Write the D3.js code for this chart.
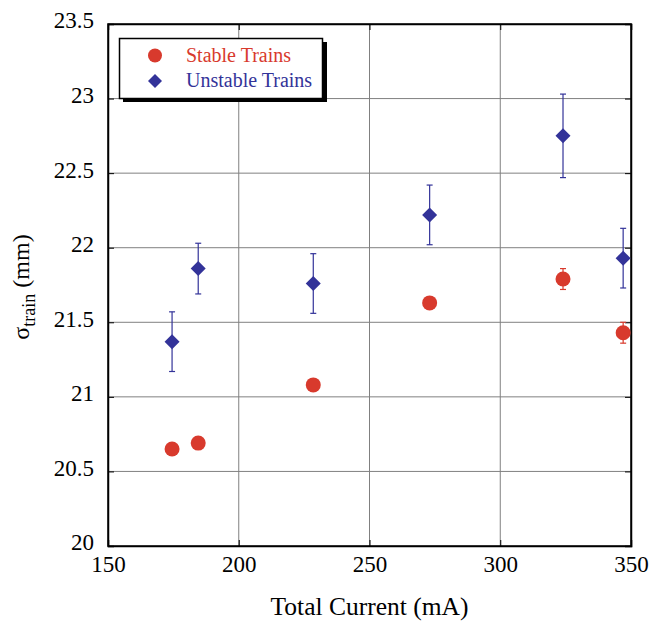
<!DOCTYPE html>
<html>
<head>
<meta charset="utf-8">
<script src="https://cdn.jsdelivr.net/npm/d3@7.9.0/dist/d3.min.js"></script>
<style>
  body { margin: 0; background: #fff; }
  text { font-family: "Liberation Serif", "Times New Roman", serif; }
</style>
</head>
<body>
<svg id="chart" width="652" height="625"></svg>
<script>
// data
const current = [174.5, 184.5, 228.5, 273, 324, 347];
const stableSigma = [20.65, 20.69, 21.08, 21.63, 21.79, 21.43];
const stableErr = [0.02, 0.02, 0.02, 0.02, 0.07, 0.07];
const unstableSigma = [21.37, 21.86, 21.76, 22.22, 22.75, 21.93];
const unstableErr = [0.20, 0.17, 0.20, 0.20, 0.28, 0.20];
const xTicks = [150, 200, 250, 300, 350];
const yTicks = [20, 20.5, 21, 21.5, 22, 22.5, 23, 23.5];

const red = '#d83a2d';
const blue = '#333399';

const svg = d3.select('#chart');
const mLeft = 108, mRight = 631, mTop = 24, mBottom = 546;

let x = d3.scaleLinear().domain([150, 350]).range([mLeft, mRight]);
let y = d3.scaleLinear().domain([20, 23.5]).range([mBottom, mTop]);

// grid
svg.append('g').selectAll('line').data(xTicks.slice(1, -1)).join('line')
    .attr('x1', d => x(d)).attr('x2', d => x(d))
    .attr('y1', mTop).attr('y2', mBottom)
    .attr('stroke', '#808080').attr('stroke-width', 1);
svg.append('g').selectAll('line').data(yTicks.slice(1, -1)).join('line')
    .attr('x1', mLeft).attr('x2', mRight)
    .attr('y1', d => y(d)).attr('y2', d => y(d))
    .attr('stroke', '#808080').attr('stroke-width', 1);

// axes with inward ticks, labels on left/bottom
const yAxis = d3.axisLeft(y).tickValues(yTicks).tickSize(-6).tickPadding(14)
    .tickFormat(d3.format('~g'));
const xAxis = d3.axisBottom(x).tickValues(xTicks).tickSize(-6).tickPadding(10)
    .tickFormat(d3.format('d'));

const gy = svg.append('g').attr('transform', `translate(${mLeft},0)`).call(yAxis);
const gx = svg.append('g').attr('transform', `translate(0,${mBottom})`).call(xAxis);
svg.append('g').attr('transform', `translate(${mRight},0)`)
    .call(d3.axisRight(y).tickValues(yTicks).tickSize(-6).tickFormat(''));
svg.append('g').attr('transform', `translate(0,${mTop})`)
    .call(d3.axisTop(x).tickValues(xTicks).tickSize(-6).tickFormat(''));

svg.selectAll('.domain').attr('stroke', '#000').attr('stroke-width', 1.5);
svg.selectAll('.tick line').attr('stroke', '#000');
gy.selectAll('text').attr('font-size', 23).attr('fill', '#000').attr('dy', '0.17em')
    .attr('font-family', '"Liberation Serif", serif');
gx.selectAll('text').attr('font-size', 23).attr('fill', '#000')
    .attr('font-family', '"Liberation Serif", serif');

// frame
svg.append('rect').attr('x', mLeft).attr('y', mTop)
    .attr('width', mRight - mLeft).attr('height', mBottom - mTop)
    .attr('fill', 'none').attr('stroke', '#000').attr('stroke-width', 1.5);

// error bars
function errorBars(vals, errs, color) {
    const g = svg.append('g').attr('stroke', color).attr('stroke-width', 1.2);
    current.forEach((c, i) => {
        const cx = x(c), y1 = y(vals[i] + errs[i]), y2 = y(vals[i] - errs[i]);
        g.append('line').attr('x1', cx).attr('x2', cx).attr('y1', y1).attr('y2', y2);
        g.append('line').attr('x1', cx - 3).attr('x2', cx + 3).attr('y1', y1).attr('y2', y1);
        g.append('line').attr('x1', cx - 3).attr('x2', cx + 3).attr('y1', y2).attr('y2', y2);
    });
}
errorBars(stableSigma, stableErr, red);
errorBars(unstableSigma, unstableErr, blue);

const diamond = 'M0,-7.5L7.5,0L0,7.5L-7.5,0Z';

svg.append('g').selectAll('circle').data(stableSigma).join('circle')
    .attr('cx', (d, i) => x(current[i])).attr('cy', d => y(d))
    .attr('r', 7.5).attr('fill', red);

svg.append('g').selectAll('path').data(unstableSigma).join('path')
    .attr('d', diamond)
    .attr('transform', (d, i) => `translate(${x(current[i])},${y(d)})`)
    .attr('fill', blue);

// legend
const lg = svg.append('g');
lg.append('rect').attr('x', 123).attr('y', 42).attr('width', 204).attr('height', 60).attr('fill', '#000');
lg.append('rect').attr('x', 119.5).attr('y', 38.5).attr('width', 203).attr('height', 60)
    .attr('fill', '#fff').attr('stroke', '#000').attr('stroke-width', 1.5);
lg.append('circle').attr('cx', 155).attr('cy', 55.5).attr('r', 7).attr('fill', red);
lg.append('path').attr('d', 'M0,-7L7,0L0,7L-7,0Z').attr('transform', 'translate(155,81)').attr('fill', blue);
lg.append('text').attr('x', 186).attr('y', 62).attr('font-size', 20).attr('fill', red).text('Stable Trains');
lg.append('text').attr('x', 186).attr('y', 87).attr('font-size', 20).attr('fill', blue).text('Unstable Trains');

// axis titles
svg.append('text').attr('x', x(250)).attr('y', 615).attr('text-anchor', 'middle')
    .attr('font-size', 25.5).text('Total Current (mA)');

const yl = svg.append('text').attr('transform', `translate(29,${y(21.75) + 2}) rotate(-90)`)
    .attr('text-anchor', 'middle').attr('font-size', 24);
yl.append('tspan').text('σ');
yl.append('tspan').attr('font-size', 18).attr('dy', 6).text('train');
yl.append('tspan').attr('dy', -6).text(' (mm)');
</script>
</body>
</html>
